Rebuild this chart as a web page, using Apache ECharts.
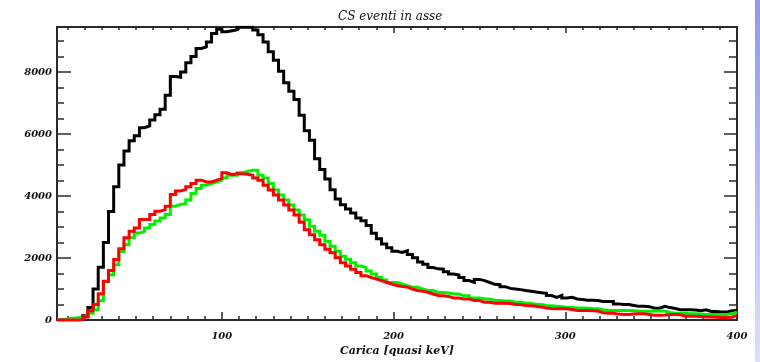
<!DOCTYPE html>
<html>
<head>
<meta charset="utf-8">
<script src="https://cdn.jsdelivr.net/npm/echarts@6/dist/echarts.min.js"></script>
<style>
  html, body { margin: 0; padding: 0; background: #fff; }
  #chart { width: 760px; height: 362px; }
</style>
</head>
<body>
<div id="chart"></div>
<script>
// histogram bins: 132 bins of width 3 from 4 to 400
const binStart = 4;
const binWidth = 3;

const blackCounts = [
  0, 0, 0, 0, 20, 140, 400, 1000, 1700, 2500,
  3500, 4300, 5000, 5450, 5780, 5940, 6200, 6260, 6450, 6620,
  6800, 7250, 7850, 7830, 8000, 8300, 8500, 8760, 8810, 8970,
  9240, 9380, 9300, 9330, 9360, 9440, 9440, 9440, 9350, 9200,
  8970, 8650, 8380, 8020, 7650, 7380, 7110, 6600, 6100, 5800,
  5200, 4850, 4550, 4200, 3900, 3720, 3580, 3450, 3290, 3200,
  3050, 2800, 2620, 2450, 2330, 2220, 2180, 2230, 2110, 2010,
  1870, 1800, 1690, 1650, 1640, 1560, 1480, 1450, 1370, 1270,
  1210, 1310, 1270, 1210, 1150, 1140, 1075, 1020, 1000, 980,
  950, 925, 900, 880, 860, 790, 730, 790, 710, 730,
  680, 660, 640, 640, 630, 600, 600, 600, 520, 500,
  500, 470, 440, 440, 430, 380, 380, 440, 400, 370,
  330, 330, 330, 320, 300, 330, 275, 275, 260, 255,
  300, 310
];

const greenCounts = [
  0, 30, 60, 70, 90, 130, 220, 330, 620, 1240,
  1460, 1780, 2210, 2430, 2650, 2810, 2860, 2970, 3080, 3190,
  3290, 3400, 3670, 3730, 3750, 3870, 4080, 4240, 4350, 4400,
  4450, 4510, 4580, 4670, 4670, 4750, 4790, 4830, 4830, 4670,
  4580, 4400, 4190, 4030, 3870, 3710, 3550, 3390, 3230, 3020,
  2860, 2730, 2540, 2380, 2220, 2060, 1960, 1850, 1740, 1690,
  1580, 1480, 1370, 1290, 1210, 1210, 1160, 1110, 1060, 1060,
  1000, 950, 950, 890, 890, 870, 840, 840, 780, 780,
  710, 710, 680, 680, 630, 630, 610, 610, 570, 570,
  540, 540, 500, 500, 470, 460, 440, 430, 410, 400,
  390, 390, 380, 360, 360, 330, 310, 310, 310, 310,
  310, 300, 280, 280, 280, 290, 290, 290, 240, 220,
  220, 210, 200, 200, 190, 180, 180, 180, 180, 180,
  200, 250
];

const redCounts = [
  0, 0, 0, 0, 0, 100, 300, 500, 850, 1250,
  1600, 1950, 2300, 2650, 2860, 2970, 3240, 3240, 3400, 3510,
  3560, 3670, 4050, 4160, 4210, 4300, 4400, 4510, 4450, 4450,
  4510, 4560, 4750, 4690, 4720, 4720, 4700, 4670, 4580, 4510,
  4350, 4190, 4030, 3870, 3710, 3550, 3390, 3150, 2910, 2750,
  2590, 2430, 2280, 2170, 2010, 1850, 1740, 1640, 1530, 1430,
  1370, 1320, 1270, 1210, 1160, 1110, 1080, 1060, 1000, 950,
  930, 890, 840, 790, 780, 760, 710, 710, 680, 680,
  630, 630, 570, 570, 540, 540, 540, 530, 500, 500,
  470, 460, 440, 420, 390, 370, 360, 360, 360, 340,
  310, 310, 310, 300, 290, 230, 220, 220, 190, 180,
  180, 190, 200, 200, 180, 150, 150, 160, 180, 180,
  170, 120, 120, 120, 110, 100, 100, 90, 80, 80,
  90, 150
];

const xMajorTicks = [100, 200, 300, 400];
const xMinorTicks = [10, 20, 30, 40, 50, 60, 70, 80, 90,
  110, 120, 130, 140, 150, 160, 170, 180, 190,
  210, 220, 230, 240, 250, 260, 270, 280, 290,
  310, 320, 330, 340, 350, 360, 370, 380, 390];
const yMajorTicks = [0, 2000, 4000, 6000, 8000];
const yMinorTicks = [500, 1000, 1500, 2500, 3000, 3500, 4500, 5000, 5500,
  6500, 7000, 7500, 8500, 9000];

const xMin = 4, xMax = 400, yMin = 0, yMax = 9450;

function toSteps(counts) {
  const pts = counts.map((c, i) => [binStart + i * binWidth, c]);
  pts.push([binStart + counts.length * binWidth, counts[counts.length - 1]]);
  return pts;
}

const axisColor = '#2a2a2a';
const labelFont = {
  fontFamily: 'DejaVu Serif',
  fontStyle: 'italic',
  fontWeight: 'bold',
  fontSize: 10,
  color: '#111'
};

function xAxisDef(position, ticks, len, showLine, labels) {
  return {
    type: 'value', position, min: xMin, max: xMax,
    axisLine: { show: showLine, onZero: false, lineStyle: { color: axisColor, width: 2 } },
    axisTick: { show: true, inside: true, length: len, customValues: ticks, lineStyle: { color: axisColor, width: 1.5 } },
    axisLabel: labels
      ? { show: true, customValues: ticks, margin: 11, formatter: (v) => String(v), ...labelFont }
      : { show: false },
    splitLine: { show: false }
  };
}

function yAxisDef(position, ticks, len, showLine, labels) {
  return {
    type: 'value', position, min: yMin, max: yMax,
    axisLine: { show: showLine, onZero: false, lineStyle: { color: axisColor, width: 2 } },
    axisTick: { show: true, inside: true, length: len, customValues: ticks, lineStyle: { color: axisColor, width: 1.5 } },
    axisLabel: labels
      ? { show: true, customValues: ticks, margin: 5, formatter: (v) => String(v), ...labelFont }
      : { show: false },
    splitLine: { show: false }
  };
}

const chart = echarts.init(document.getElementById('chart'), null, { renderer: 'canvas' });

const bottomAxis = xAxisDef('bottom', xMajorTicks, 8, true, true);
bottomAxis.name = 'Carica [quasi keV]';
bottomAxis.nameLocation = 'middle';
bottomAxis.nameGap = 26;
bottomAxis.nameTextStyle = { ...labelFont, fontSize: 11 };

const option = {
  animation: false,
  backgroundColor: '#fff',
  title: {
    text: 'CS eventi in asse',
    left: 333,
    top: 6,
    textStyle: { fontFamily: 'DejaVu Serif', fontStyle: 'italic', fontWeight: 'normal', fontSize: 12, color: '#111' }
  },
  grid: { left: 57, right: 23, top: 27, bottom: 39 },
  xAxis: [
    bottomAxis,
    xAxisDef('bottom', xMinorTicks, 4, false, false),
    xAxisDef('top', xMajorTicks, 6, true, false),
    xAxisDef('top', xMinorTicks, 3, false, false)
  ],
  yAxis: [
    yAxisDef('left', yMajorTicks, 14, true, true),
    yAxisDef('left', yMinorTicks, 7, false, false),
    yAxisDef('right', yMajorTicks, 13, true, false),
    yAxisDef('right', yMinorTicks, 8, false, false)
  ],
  series: [
    {
      name: 'totale', type: 'line', step: 'end', data: toSteps(blackCounts),
      symbol: 'none', lineStyle: { color: '#000', width: 3, join: 'miter' }, z: 3
    },
    {
      name: 'verde', type: 'line', step: 'end', data: toSteps(greenCounts),
      symbol: 'none', lineStyle: { color: '#00ee00', width: 3, join: 'miter' }, z: 4
    },
    {
      name: 'rosso', type: 'line', step: 'end', data: toSteps(redCounts),
      symbol: 'none', lineStyle: { color: '#ff0000', width: 3, join: 'miter' }, z: 5
    }
  ],
  graphic: [
    {
      type: 'rect', silent: true,
      shape: { x: 755, y: 0, width: 5, height: 362 },
      style: {
        fill: new echarts.graphic.LinearGradient(0, 0, 0, 1, [
          { offset: 0, color: '#8e99ee' },
          { offset: 1, color: '#dde0f9' }
        ])
      }
    }
  ]
};

chart.setOption(option);
</script>
</body>
</html>
